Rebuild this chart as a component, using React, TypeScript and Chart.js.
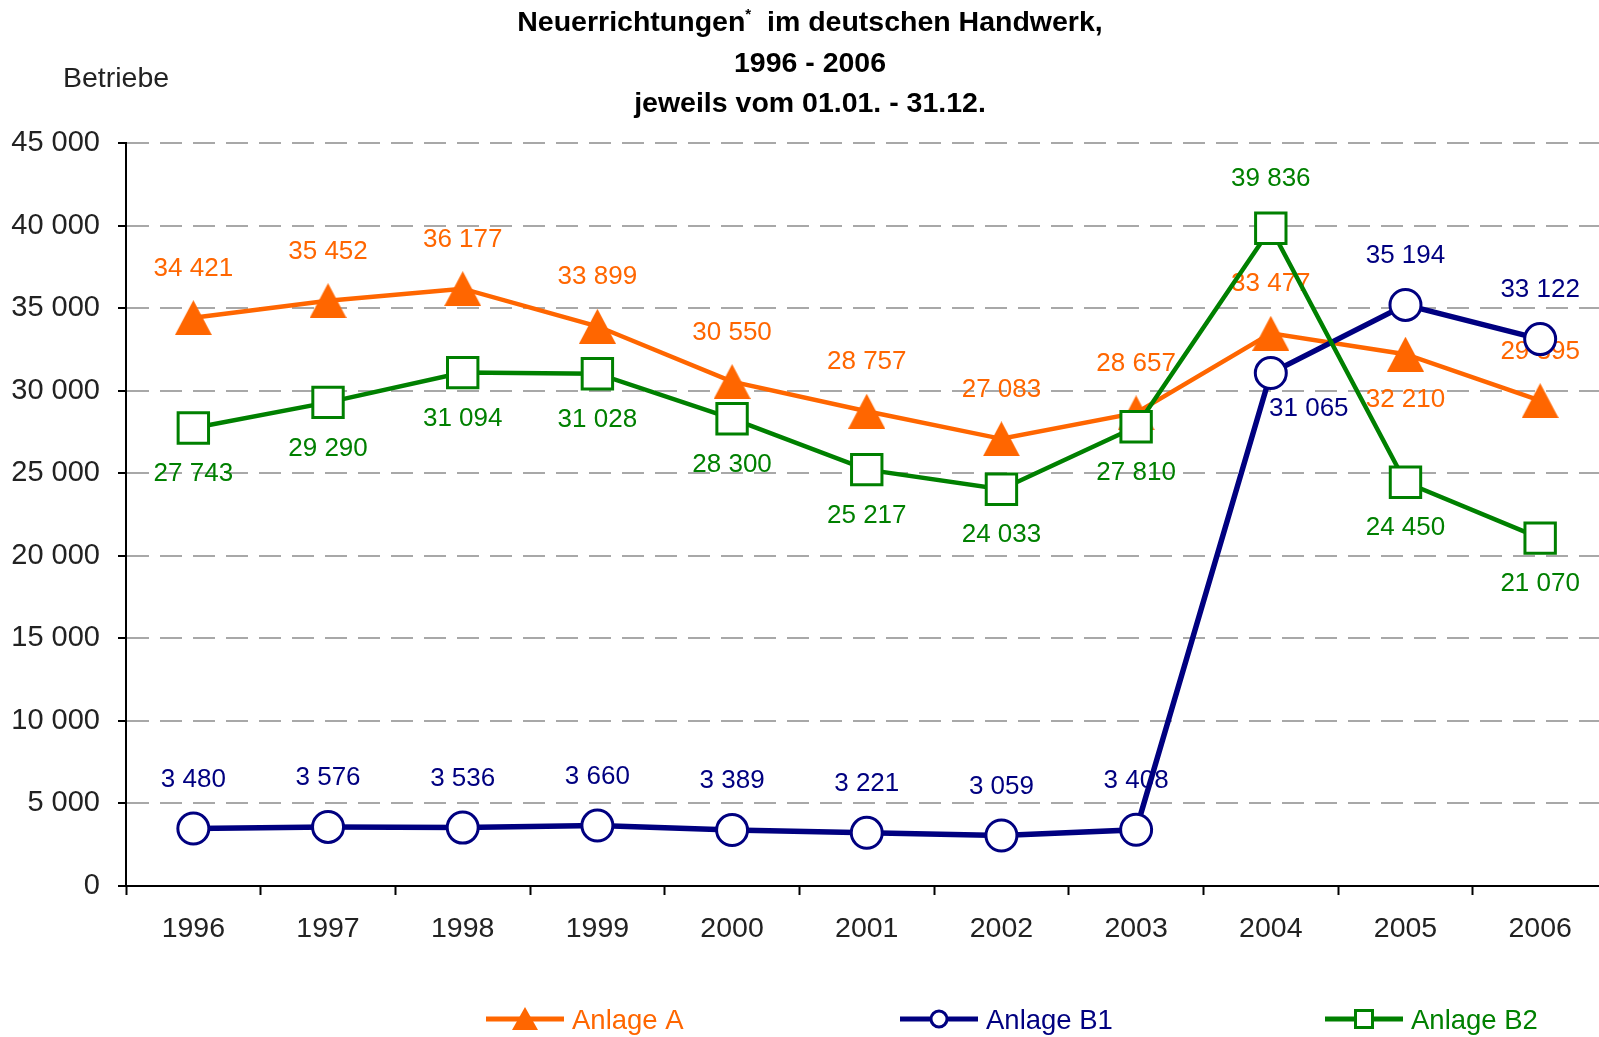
import React, { useEffect, useRef } from 'react';
import { Chart, registerables } from 'chart.js';

Chart.register(...registerables);

// ---------- data ----------
const years = ['1996', '1997', '1998', '1999', '2000', '2001', '2002', '2003', '2004', '2005', '2006'];
const anlageA = [34421, 35452, 36177, 33899, 30550, 28757, 27083, 28657, 33477, 32210, 29395];
const anlageB1 = [3480, 3576, 3536, 3660, 3389, 3221, 3059, 3408, 31065, 35194, 33122];
const anlageB2 = [27743, 29290, 31094, 31028, 28300, 25217, 24033, 27810, 39836, 24450, 21070];
const seriesNames = ['Anlage A', 'Anlage B1', 'Anlage B2'];
const yMin = 0;
const yMax = 45000;
const yStep = 5000;
const yAxisTitle = 'Betriebe';
const titleLine1a = 'Neuerrichtungen';
const titleLine1b = '  im deutschen Handwerk,';
const titleLine2 = '1996 - 2006';
const titleLine3 = 'jeweils vom 01.01. - 31.12.';

// label placement hints (where the value label sits relative to its marker)
const placeA = ['above', 'above', 'above', 'above', 'above', 'above', 'above', 'above', 'above', 'below', 'above'];
const placeB1 = ['above', 'above', 'above', 'above', 'above', 'above', 'above', 'above', 'belowRight', 'above', 'above'];
const placeB2 = ['below', 'below', 'below', 'below', 'below', 'below', 'below', 'below', 'above', 'below', 'below'];

const ORANGE = '#FF6600';
const NAVY = '#000080';
const GREEN = '#008000';
const FONT = "'Liberation Sans', Arial, Helvetica, sans-serif";

const fmt = (v: number) => String(v).replace(/\B(?=(\d{3})+(?!\d))/g, ' ');

function makeTriangle(w: number, h: number, color: string) {
  const c = document.createElement('canvas');
  c.width = w;
  c.height = h;
  const ctx = c.getContext('2d')!;
  ctx.fillStyle = color;
  ctx.beginPath();
  ctx.moveTo(w / 2, 0);
  ctx.lineTo(w, h);
  ctx.lineTo(0, h);
  ctx.closePath();
  ctx.fill();
  return c;
}

const valueLabelPlugin = {
  id: 'valueLabels',
  afterDatasetDraw(chart: any, args: any) {
    const ds = chart.data.datasets[args.index];
    const meta = args.meta;
    const ctx = chart.ctx;
    ctx.save();
    ctx.font = `26px ${FONT}`;
    ctx.fillStyle = ds.labelColor;
    ctx.textAlign = 'center';
    ctx.textBaseline = 'middle';
    meta.data.forEach((pt: any, i: number) => {
      const p = ds.placement[i];
      let dx = 0;
      let dy = -49;
      if (p === 'below') dy = 46;
      if (p === 'belowRight') { dx = 38; dy = 36; }
      ctx.fillText(fmt(ds.data[i]), pt.x + dx, pt.y + dy);
    });
    ctx.restore();
  },
};

const decorPlugin = {
  id: 'decor',
  afterDraw(chart: any) {
    const ctx = chart.ctx;
    ctx.save();
    // title
    ctx.fillStyle = '#000';
    ctx.textBaseline = 'middle';
    const tf = `bold 28.5px ${FONT}`;
    ctx.font = tf;
    const cx = 810;
    const wA = ctx.measureText(titleLine1a).width;
    const wB = ctx.measureText(titleLine1b).width;
    ctx.font = `bold 15px ${FONT}`;
    const wS = ctx.measureText('*').width;
    const total = wA + wS + wB;
    let x = cx - total / 2;
    ctx.textAlign = 'left';
    ctx.font = tf;
    ctx.fillText(titleLine1a, x, 23.5);
    x += wA;
    ctx.font = `bold 15px ${FONT}`;
    ctx.fillText('*', x, 15);
    x += wS;
    ctx.font = tf;
    ctx.fillText(titleLine1b, x, 23.5);
    ctx.textAlign = 'center';
    ctx.fillText(titleLine2, cx, 64);
    ctx.fillText(titleLine3, cx, 104);

    // y axis title
    ctx.font = `28.5px ${FONT}`;
    ctx.fillStyle = '#222';
    ctx.textAlign = 'left';
    ctx.fillText(yAxisTitle, 63, 79);

    // legend
    const items = [
      { x: 486, color: ORANGE, kind: 'tri' },
      { x: 900, color: NAVY, kind: 'circle' },
      { x: 1325, color: GREEN, kind: 'rect' },
    ];
    const ly = 1019;
    items.forEach((it, i) => {
      ctx.strokeStyle = it.color;
      ctx.lineWidth = 5;
      ctx.beginPath();
      ctx.moveTo(it.x, ly);
      ctx.lineTo(it.x + 78, ly);
      ctx.stroke();
      const mx = it.x + 39;
      if (it.kind === 'tri') {
        ctx.fillStyle = it.color;
        ctx.beginPath();
        ctx.moveTo(mx, ly - 12);
        ctx.lineTo(mx + 13, ly + 11);
        ctx.lineTo(mx - 13, ly + 11);
        ctx.closePath();
        ctx.fill();
      } else if (it.kind === 'circle') {
        ctx.fillStyle = '#fff';
        ctx.lineWidth = 3;
        ctx.beginPath();
        ctx.arc(mx, ly, 8, 0, Math.PI * 2);
        ctx.fill();
        ctx.stroke();
      } else {
        ctx.fillStyle = '#fff';
        ctx.lineWidth = 3;
        ctx.fillRect(mx - 8.5, ly - 8.5, 17, 17);
        ctx.strokeRect(mx - 8.5, ly - 8.5, 17, 17);
      }
      ctx.fillStyle = it.color;
      ctx.font = `27.5px ${FONT}`;
      ctx.textAlign = 'left';
      ctx.textBaseline = 'middle';
      ctx.fillText(seriesNames[i], it.x + 86, ly + 2);
    });
    ctx.restore();
  },
};

export default function App() {
  const ref = useRef<HTMLCanvasElement | null>(null);

  useEffect(() => {
    document.body.style.margin = '0';
    document.body.style.overflow = 'hidden';
    document.documentElement.style.overflow = 'hidden';
    const canvas = ref.current!;
    const tri = makeTriangle(37, 35, ORANGE);
    const chart = new Chart(canvas, {
      type: 'line',
      data: {
        labels: years,
        datasets: [
          {
            label: seriesNames[0],
            data: anlageA,
            borderColor: ORANGE,
            backgroundColor: ORANGE,
            borderWidth: 4.5,
            pointStyle: tri as any,
            pointRadius: 17,
            tension: 0,
            order: 3,
            labelColor: ORANGE,
            placement: placeA,
          } as any,
          {
            label: seriesNames[1],
            data: anlageB1,
            borderColor: NAVY,
            backgroundColor: '#fff',
            borderWidth: 5.5,
            pointStyle: 'circle',
            pointRadius: 15.5,
            pointBorderWidth: 3,
            pointBorderColor: NAVY,
            pointBackgroundColor: '#fff',
            tension: 0,
            order: 2,
            labelColor: NAVY,
            placement: placeB1,
          } as any,
          {
            label: seriesNames[2],
            data: anlageB2,
            borderColor: GREEN,
            backgroundColor: '#fff',
            borderWidth: 4.5,
            pointStyle: 'rect',
            pointRadius: 21.5,
            pointBorderWidth: 3,
            pointBorderColor: GREEN,
            pointBackgroundColor: '#fff',
            tension: 0,
            order: 1,
            labelColor: GREEN,
            placement: placeB2,
          } as any,
        ],
      },
      options: {
        responsive: false,
        animation: false,
        devicePixelRatio: 1,
        layout: { padding: { top: 143, left: 0, right: 0, bottom: 91 } },
        plugins: {
          legend: { display: false },
          tooltip: { enabled: false },
          title: { display: false },
        },
        scales: {
          x: {
            type: 'category',
            offset: true,
            grid: {
              offset: true,
              drawOnChartArea: false,
              drawTicks: true,
              tickLength: 9,
              tickColor: '#000',
              tickWidth: 2,
            },
            border: { display: true, color: '#000', width: 2 },
            ticks: {
              font: { family: FONT, size: 28.5 },
              color: '#222',
              padding: 17,
              maxRotation: 0,
              autoSkip: false,
            },
            afterFit: (s: any) => { s.height = 60; },
          },
          y: {
            min: yMin,
            max: yMax,
            ticks: {
              stepSize: yStep,
              callback: (v: any) => fmt(Number(v)),
              font: { family: FONT, size: 29 },
              color: '#222',
              padding: 18,
            },
            grid: {
              color: '#a8a8a8',
              lineWidth: 2,
              tickColor: '#000',
              tickWidth: 2,
              tickLength: 8,
              tickBorderDash: [],
            },
            border: { display: true, color: '#000', width: 2, dash: [22, 11] },
            afterFit: (s: any) => { s.width = 126; },
          },
        } as any,
      },
      plugins: [valueLabelPlugin, decorPlugin],
    });
    return () => chart.destroy();
  }, []);

  return (
    <div
      style={{
        position: 'fixed',
        left: 0,
        top: 0,
        width: 1599,
        height: 1037,
        overflow: 'hidden',
        background: '#fff',
      }}
    >
      <canvas ref={ref} width={1632} height={1037} style={{ display: 'block' }} />
    </div>
  );
}
